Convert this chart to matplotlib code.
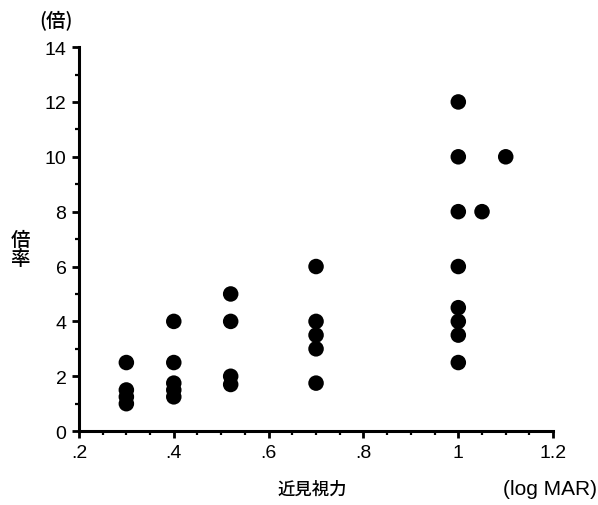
import numpy as np
import matplotlib.pyplot as plt
from matplotlib.ticker import MultipleLocator

plt.rcParams['font.family'] = ['Liberation Sans', 'Noto Sans CJK JP', 'DejaVu Sans']

# 近見視力 (logMAR) と 倍率
near_va = [0.3, 0.3, 0.3, 0.3,
           0.4, 0.4, 0.4, 0.4, 0.4,
           0.52, 0.52, 0.52, 0.52,
           0.7, 0.7, 0.7, 0.7, 0.7,
           1.0, 1.0, 1.0, 1.0, 1.0, 1.0, 1.0, 1.0,
           1.05, 1.1]
magnif = [2.5, 1.5, 1.25, 1.0,
          4.0, 2.5, 1.75, 1.5, 1.25,
          5.0, 4.0, 2.0, 1.7,
          6.0, 4.0, 3.5, 3.0, 1.75,
          12.0, 10.0, 8.0, 6.0, 4.5, 4.0, 3.5, 2.5,
          8.0, 10.0]

xticks = [0.2, 0.4, 0.6, 0.8, 1.0, 1.2]
xticklabels = ['.2', '.4', '.6', '.8', '1', '1.2']
yticks = [0, 2, 4, 6, 8, 10, 12, 14]

fig = plt.figure(figsize=(5.98, 5.06), dpi=100)
ax = fig.add_axes([0.132, 0.146, 0.793, 0.759])

ax.scatter(near_va, magnif, s=125, c='black', edgecolors='none', zorder=3, clip_on=False)

ax.set_xlim(0.2, 1.2)
ax.set_ylim(0, 14)
ax.set_xticks(xticks)
ax.set_xticklabels(xticklabels)
ax.set_yticks(yticks)
ax.xaxis.set_minor_locator(MultipleLocator(0.05))
ax.yaxis.set_minor_locator(MultipleLocator(1))

for s in ['top', 'right']:
    ax.spines[s].set_visible(False)
for s in ['left', 'bottom']:
    ax.spines[s].set_linewidth(2.2)

ax.tick_params(which='major', direction='out', length=5, width=2.0, labelsize=14, pad=4)
ax.tick_params(which='minor', direction='out', length=3, width=1.6)

jp = ['Noto Sans CJK JP', 'DejaVu Sans']
fig.text(0.066, 0.96, '(倍)', fontsize=14, family=jp, weight='medium', ha='left', va='center')
fig.text(0.034, 0.506, '倍\n率', fontsize=14, family=jp, weight='medium', ha='center', va='center', linespacing=1.0)
fig.text(0.522, 0.032, '近見視力', fontsize=12.5, family=jp, weight='medium', ha='center', va='center')
fig.text(0.998, 0.032, '(log MAR)', fontsize=15, family=['Liberation Sans'], ha='right', va='center')

fig.savefig('out.png', dpi=100)
